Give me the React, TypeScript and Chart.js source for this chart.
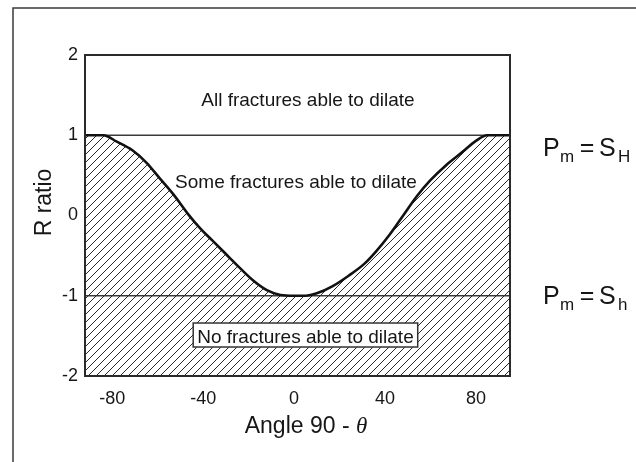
import { useEffect, useRef } from 'react';
import { Chart, registerables } from 'chart.js';

Chart.register(...registerables);

// ---- data ----
const angles = [-92, -84, -78, -71, -65, -59, -53, -47, -41, -36, -30, -24, -18, -12, -6, 0, 5, 10, 17, 24, 31, 36, 42, 48, 54, 60, 67, 74, 80, 85, 95];
const rRatio = [1, 1, 0.92, 0.81, 0.66, 0.46, 0.26, 0.03, -0.17, -0.31, -0.48, -0.65, -0.81, -0.93, -0.99, -1.0, -1.0, -0.97, -0.88, -0.75, -0.6, -0.45, -0.24, 0.0, 0.24, 0.44, 0.63, 0.79, 0.93, 1, 1];
const xTicks = [-80, -40, 0, 40, 80];
const yTicks = [-2, -1, 0, 1, 2];
const xRange = [-92, 95];
const yRange = [-2, 2];
const levels = [1, -1];
const regionLabels = ['All fractures able to dilate', 'Some fractures able to dilate', 'No fractures able to dilate'];
const regionX = [6.1, 0.84, 5.0];
const regionY = [1.364, 0.343, -1.589];
const levelSubs = ['H', 'h'];

const FONT = '"Liberation Sans", Arial, Helvetica, sans-serif';
const INK = '#161616';

function makeHatch(): CanvasPattern | string {
  const c = document.createElement('canvas');
  c.width = 8;
  c.height = 8;
  const g = c.getContext('2d');
  if (!g) return 'rgba(0,0,0,0.2)';
  g.strokeStyle = '#2b2b2b';
  g.lineWidth = 1;
  g.beginPath();
  g.moveTo(0, 8); g.lineTo(8, 0);
  g.moveTo(-2, 2); g.lineTo(2, -2);
  g.moveTo(6, 10); g.lineTo(10, 6);
  g.stroke();
  return g.createPattern(c, 'repeat') || 'rgba(0,0,0,0.2)';
}

const decor = {
  id: 'decor',
  afterDatasetsDraw(chart: any) {
    const { ctx, chartArea: a, scales } = chart;
    const xs = scales.x;
    const ys = scales.y;
    ctx.save();
    // plot frame
    ctx.strokeStyle = '#2a2a2a';
    ctx.lineWidth = 2;
    ctx.strokeRect(a.left, a.top, a.right - a.left, a.bottom - a.top);

    // region labels
    ctx.fillStyle = INK;
    ctx.textAlign = 'center';
    ctx.textBaseline = 'alphabetic';
    ctx.font = `19px ${FONT}`;
    regionLabels.forEach((t, i) => {
      const px = xs.getPixelForValue(regionX[i]);
      const py = ys.getPixelForValue(regionY[i]);
      if (i === 2) {
        const w = ctx.measureText(t).width;
        ctx.fillStyle = '#fff';
        ctx.fillRect(px - w / 2 - 4, py - 20, w + 8, 24);
        ctx.strokeStyle = '#333';
        ctx.lineWidth = 1.5;
        ctx.strokeRect(px - w / 2 - 4, py - 20, w + 8, 24);
        ctx.fillStyle = INK;
      }
      ctx.fillText(t, px, py);
    });

    // right-hand labels  P_m = S_H / S_h
    ctx.textAlign = 'left';
    levels.forEach((lv, i) => {
      const x0 = 543;
      const base = i === 0 ? ys.getPixelForValue(lv) + 21 : ys.getPixelForValue(lv) + 8;
      ctx.font = `25px ${FONT}`;
      ctx.fillText('P', x0, base);
      ctx.font = `17px ${FONT}`;
      ctx.fillText('m', x0 + 17, base + 6);
      ctx.font = `25px ${FONT}`;
      ctx.textAlign = 'center';
      ctx.fillText('=', x0 + 44, base);
      ctx.textAlign = 'left';
      ctx.fillText('S', x0 + 56, base);
      ctx.font = `17px ${FONT}`;
      ctx.fillText(levelSubs[i], x0 + 75, base + 6);
    });

    // x title with italic theta
    const part1 = 'Angle 90 - ';
    ctx.font = `23px ${FONT}`;
    const w1 = ctx.measureText(part1).width;
    ctx.font = `italic 23px "Liberation Serif", "Times New Roman", serif`;
    const w2 = ctx.measureText('θ').width;
    const cx = 306;
    const startX = cx - (w1 + w2) / 2;
    ctx.textAlign = 'left';
    ctx.font = `23px ${FONT}`;
    ctx.fillText(part1, startX, 433);
    ctx.font = `italic 23px "Liberation Serif", "Times New Roman", serif`;
    ctx.fillText('θ', startX + w1, 433);

    // y title
    ctx.save();
    ctx.translate(45, 202.5);
    ctx.rotate(-Math.PI / 2);
    ctx.textAlign = 'center';
    ctx.textBaseline = 'middle';
    ctx.font = `23px ${FONT}`;
    ctx.fillText('R ratio', 0, 0);
    ctx.restore();

    // outer frame
    ctx.strokeStyle = '#3a3a3a';
    ctx.lineWidth = 1.5;
    ctx.beginPath();
    ctx.moveTo(13, chart.height);
    ctx.lineTo(13, 8);
    ctx.lineTo(chart.width, 8);
    ctx.stroke();
    ctx.restore();
  },
};

export default function App() {
  const ref = useRef<HTMLCanvasElement>(null);
  useEffect(() => {
    document.body.style.margin = '0';
    const canvas = ref.current;
    if (!canvas) return;
    const hatch = makeHatch();
    const chart = new Chart(canvas, {
      type: 'line',
      data: {
        datasets: [
          {
            data: angles.map((a, i) => ({ x: a, y: rRatio[i] })),
            borderColor: '#111',
            borderWidth: 2.6,
            fill: 'start',
            backgroundColor: hatch as any,
            pointRadius: 0,
            cubicInterpolationMode: 'monotone',
          },
          ...levels.map((lv) => ({
            data: xRange.map((x) => ({ x, y: lv })),
            borderColor: '#3a3a3a',
            borderWidth: 1.3,
            pointRadius: 0,
            fill: false,
          })),
        ],
      },
      options: {
        animation: false,
        responsive: false,
        devicePixelRatio: 1,
        layout: { padding: { top: 55, right: 126, left: 0, bottom: 0 } },
        plugins: { legend: { display: false }, tooltip: { enabled: false } },
        scales: {
          x: {
            type: 'linear',
            min: xRange[0],
            max: xRange[1],
            grid: { display: false, drawTicks: false },
            border: { display: false },
            ticks: { color: INK, font: { family: FONT, size: 18 }, padding: 12, autoSkip: false, maxRotation: 0 },
            afterBuildTicks: (s: any) => { s.ticks = xTicks.map((v) => ({ value: v })); },
            afterFit: (s: any) => { s.height = 86; },
          },
          y: {
            type: 'linear',
            min: yRange[0],
            max: yRange[1],
            grid: { display: false, drawTicks: false },
            border: { display: false },
            ticks: { color: INK, font: { family: FONT, size: 18 }, padding: 7 },
            afterBuildTicks: (s: any) => { s.ticks = yTicks.map((v) => ({ value: v })); },
            afterFit: (s: any) => { s.width = 85; },
          },
        },
      } as any,
      plugins: [decor],
    });
    return () => chart.destroy();
  }, []);
  return <canvas ref={ref} width={636} height={462} style={{ display: 'block' }} />;
}
